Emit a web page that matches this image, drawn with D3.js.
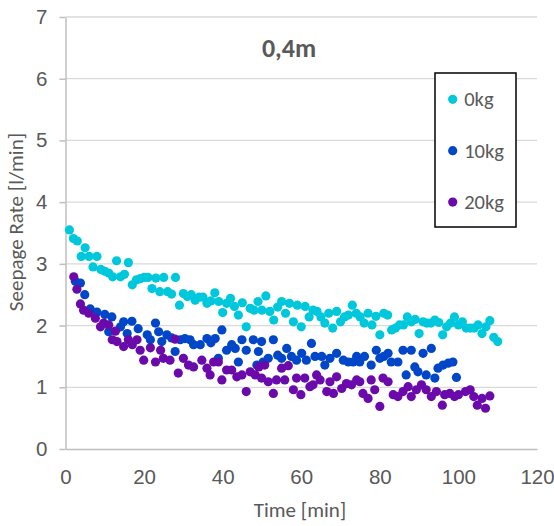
<!DOCTYPE html>
<html>
<head>
<meta charset="utf-8">
<script src="https://cdn.jsdelivr.net/npm/d3@7"></script>
<style>
  body { margin: 0; background: #fff; }
  svg { font-family: Calibri, Carlito, "Liberation Sans", Arial, sans-serif; }
</style>
</head>
<body>
<svg id="chart" width="554" height="526"></svg>
<script>
// data
var seriesNames = ["0kg", "10kg", "20kg"];
var xTicks = [0, 20, 40, 60, 80, 100, 120];
var yTicks = [0, 1, 2, 3, 4, 5, 6, 7];

var time0 = [1, 2, 3, 4, 5, 6, 7, 8, 9, 10, 11, 12, 13, 14, 15, 16, 17, 18, 19, 20,
             21, 22, 23, 24, 25, 26, 27, 28, 29, 30, 31, 32, 33, 34, 35, 36, 37, 38, 39, 40,
             41, 42, 43, 44, 45, 46, 47, 48, 49, 50, 51, 52, 53, 54, 55, 56, 57, 58, 59, 60,
             61, 62, 63, 64, 65, 66, 67, 68, 69, 70, 71, 72, 73, 74, 75, 76, 77, 78, 79, 80,
             81, 82, 83, 84, 85, 86, 87, 88, 89, 90, 91, 92, 93, 94, 95, 96, 97, 98, 99, 100,
             101, 102, 103, 104, 105, 106, 107, 108, 109, 110];
var rate0 = [3.55, 3.41, 3.37, 3.12, 3.26, 3.12, 2.95, 3.12, 2.91, 2.88, 2.85, 2.79, 3.05, 2.79, 2.83, 3.02, 2.66, 2.74, 2.76, 2.78,
             2.78, 2.60, 2.77, 2.55, 2.78, 2.55, 2.51, 2.78, 2.33, 2.52, 2.47, 2.50, 2.41, 2.46, 2.46, 2.36, 2.40, 2.53, 2.39, 2.21,
             2.36, 2.44, 2.31, 2.17, 2.37, 1.98, 2.28, 2.25, 2.39, 2.25, 2.48, 2.23, 2.09, 2.30, 2.39, 2.20, 2.36, 2.06, 2.33, 1.98,
             2.31, 2.14, 2.25, 2.23, 2.14, 2.04, 2.20, 1.96, 2.23, 2.06, 2.14, 2.17, 2.33, 2.20, 2.14, 2.04, 2.20, 2.01, 2.15, 1.85,
             2.20, 2.17, 1.93, 1.96, 2.01, 2.01, 2.14, 2.06, 2.10, 1.87, 2.06, 2.04, 2.04, 2.09, 2.05, 1.85, 1.98, 2.04, 2.14, 2.01,
             2.06, 1.96, 1.96, 1.96, 2.01, 1.87, 1.98, 2.08, 1.81, 1.74];

var time10 = [2.5, 3.8, 4.9, 6.3, 8.0, 10.0, 11.0, 11.8, 14.0, 14.8, 15.7, 16.9, 18.5, 20.8, 21.6, 22.9, 23.7, 24.5, 25.8, 27.0,
              27.9, 29.2, 30.4, 31.7, 32.6, 34.3, 36.0, 37.0, 38.1, 38.9, 39.8, 41.0, 42.3, 43.2, 44.0, 44.9, 46.0, 47.8, 48.7, 49.1,
              49.9, 50.3, 51.6, 52.9, 54.0, 55.0, 56.3, 57.5, 58.8, 60.1, 61.3, 62.6, 63.5, 65.2, 66.0, 67.3, 69.0, 70.7, 72.0, 73.2,
              74.1, 74.9, 76.1, 77.8, 79.1, 80.0, 81.0, 82.1, 82.9, 84.6, 85.9, 86.7, 88.0, 88.9, 89.7, 91.0, 91.8, 93.1, 94.0, 94.8,
              96.1, 97.4, 98.6, 99.5];
var rate10 = [2.72, 2.69, 2.50, 2.27, 2.22, 2.18, 1.90, 2.14, 1.98, 2.06, 1.87, 2.07, 1.95, 1.85, 1.77, 2.04, 1.90, 1.74, 1.85, 1.80,
              1.58, 1.77, 1.79, 1.77, 1.69, 1.69, 1.79, 1.72, 1.79, 1.47, 1.93, 1.60, 1.69, 1.63, 1.41, 1.77, 1.60, 1.77, 1.36, 1.58,
              1.74, 1.41, 1.47, 1.77, 1.52, 1.47, 1.63, 1.50, 1.44, 1.55, 1.44, 1.71, 1.50, 1.50, 1.36, 1.47, 1.55, 1.44, 1.41, 1.41,
              1.50, 1.41, 1.50, 1.36, 1.60, 1.47, 1.50, 1.55, 1.41, 1.41, 1.60, 1.20, 1.60, 1.33, 1.25, 1.55, 1.20, 1.63, 1.15, 1.31,
              1.36, 1.39, 1.41, 1.16];

var time20 = [2.1, 2.9, 3.8, 4.6, 5.9, 7.6, 8.9, 9.7, 11.0, 11.9, 12.7, 13.1, 14.8, 16.0, 17.0, 18.2, 19.0, 19.9, 21.6, 22.9,
              24.2, 24.9, 26.6, 27.9, 28.7, 30.0, 31.3, 32.6, 34.7, 36.0, 36.8, 37.7, 38.9, 39.8, 41.0, 42.3, 43.6, 44.9, 46.0, 47.0,
              48.3, 49.2, 49.9, 50.7, 51.6, 52.9, 53.7, 55.0, 55.8, 56.7, 58.0, 58.8, 59.9, 60.9, 62.2, 63.0, 63.9, 64.8, 66.5, 67.3,
              68.2, 69.0, 70.3, 71.5, 72.8, 74.1, 74.9, 75.7, 77.0, 77.8, 78.7, 80.0, 80.8, 82.1, 83.4, 84.6, 85.9, 87.2, 88.0, 89.3,
              90.6, 91.8, 93.1, 94.4, 95.9, 96.5, 97.8, 99.0, 100.0, 101.8, 103.0, 103.9, 104.8, 106.0, 106.9, 108.0];
var rate20 = [2.79, 2.59, 2.35, 2.25, 2.20, 2.12, 1.98, 2.04, 2.01, 1.77, 1.91, 1.74, 1.66, 1.77, 1.69, 1.77, 1.60, 1.44, 1.64, 1.41,
              1.60, 1.47, 1.44, 1.78, 1.23, 1.47, 1.36, 1.33, 1.44, 1.31, 1.20, 1.41, 1.41, 1.12, 1.28, 1.28, 1.17, 1.20, 0.93, 1.25,
              1.20, 1.33, 1.15, 1.36, 1.09, 0.90, 1.12, 1.31, 1.12, 1.35, 0.96, 1.15, 0.88, 1.15, 1.01, 1.04, 1.20, 1.12, 0.93, 1.09,
              0.90, 1.17, 0.98, 1.06, 1.04, 1.12, 1.09, 0.90, 0.82, 1.12, 0.96, 0.69, 1.15, 1.09, 0.88, 0.85, 0.93, 1.01, 0.85, 0.96,
              1.04, 0.96, 0.85, 0.93, 0.71, 0.88, 0.90, 0.85, 0.88, 0.93, 0.96, 0.85, 0.71, 0.82, 0.66, 0.86];

var colors = ["#00C8DC", "#0046C8", "#6A0AAB"];

// define parameters
var svg = d3.select("svg#chart");
var textColor = "#595959",
    gridColor = "#D9D9D9",
    axisColor = "#BFBFBF",
    dotR = 4.6;

var x = d3.scaleLinear().domain([0, 120]).range([65.5, 537]);
var y = d3.scaleLinear().domain([0, 7]).range([449, 17]);

// gridlines
svg.append("g")
   .selectAll("line")
   .data(yTicks.slice(1))
   .enter().append("line")
   .attr("x1", x(0))
   .attr("x2", x(120))
   .attr("y1", function(d) { return y(d); })
   .attr("y2", function(d) { return y(d); })
   .attr("stroke", gridColor)
   .attr("stroke-width", 1.3);

// y axis
var yAxis = svg.append("g")
               .attr("transform", "translate(" + x(0) + ",0)")
               .call(d3.axisLeft(y).tickValues(yTicks).tickFormat(d3.format("d"))
                       .tickSizeInner(6).tickSizeOuter(0).tickPadding(12));

// x axis
var xAxis = svg.append("g")
               .attr("transform", "translate(0," + y(0) + ")")
               .call(d3.axisBottom(x).tickValues(xTicks).tickFormat(d3.format("d"))
                       .tickSizeInner(0).tickSizeOuter(0).tickPadding(20));

svg.selectAll(".domain, .tick line")
   .attr("stroke", axisColor)
   .attr("stroke-width", 1.5);
svg.selectAll(".tick text")
   .attr("fill", textColor)
   .style("font-size", "20.5px");

// axis titles
svg.append("text")
   .attr("x", 300)
   .attr("y", 517)
   .attr("text-anchor", "middle")
   .attr("fill", textColor)
   .style("font-size", "21px")
   .text("Time [min]");

svg.append("text")
   .attr("transform", "translate(23,222) rotate(-90)")
   .attr("text-anchor", "middle")
   .attr("fill", textColor)
   .style("font-size", "21px")
   .text("Seepage Rate [l/min]");

// title
svg.append("text")
   .attr("x", 289)
   .attr("y", 57)
   .attr("text-anchor", "middle")
   .attr("fill", textColor)
   .style("font-size", "26px")
   .style("font-weight", "bold")
   .text("0,4m");

// points
var series = [
  { times: time0, rates: rate0 },
  { times: time10, rates: rate10 },
  { times: time20, rates: rate20 }
];

series.forEach(function(s, i) {
  svg.append("g")
     .selectAll("circle")
     .data(s.times)
     .enter().append("circle")
     .attr("cx", function(d) { return x(d); })
     .attr("cy", function(d, j) { return y(s.rates[j]); })
     .attr("r", dotR)
     .attr("fill", colors[i]);
});

// legend
var legend = svg.append("g");
legend.append("rect")
      .attr("x", 435)
      .attr("y", 73)
      .attr("width", 81)
      .attr("height", 154)
      .attr("fill", "#fff")
      .attr("stroke", "#000")
      .attr("stroke-width", 1.5);

var items = legend.selectAll("g.item")
                  .data(seriesNames)
                  .enter().append("g")
                  .attr("class", "item")
                  .attr("transform", function(d, i) { return "translate(452.7," + (99.3 + i * 51.4) + ")"; });
items.append("circle")
     .attr("r", dotR)
     .attr("fill", function(d, i) { return colors[i]; });
items.append("text")
     .attr("x", 11.5)
     .attr("y", 7)
     .attr("fill", textColor)
     .style("font-size", "20.5px")
     .text(function(d) { return d; });
</script>
</body>
</html>
